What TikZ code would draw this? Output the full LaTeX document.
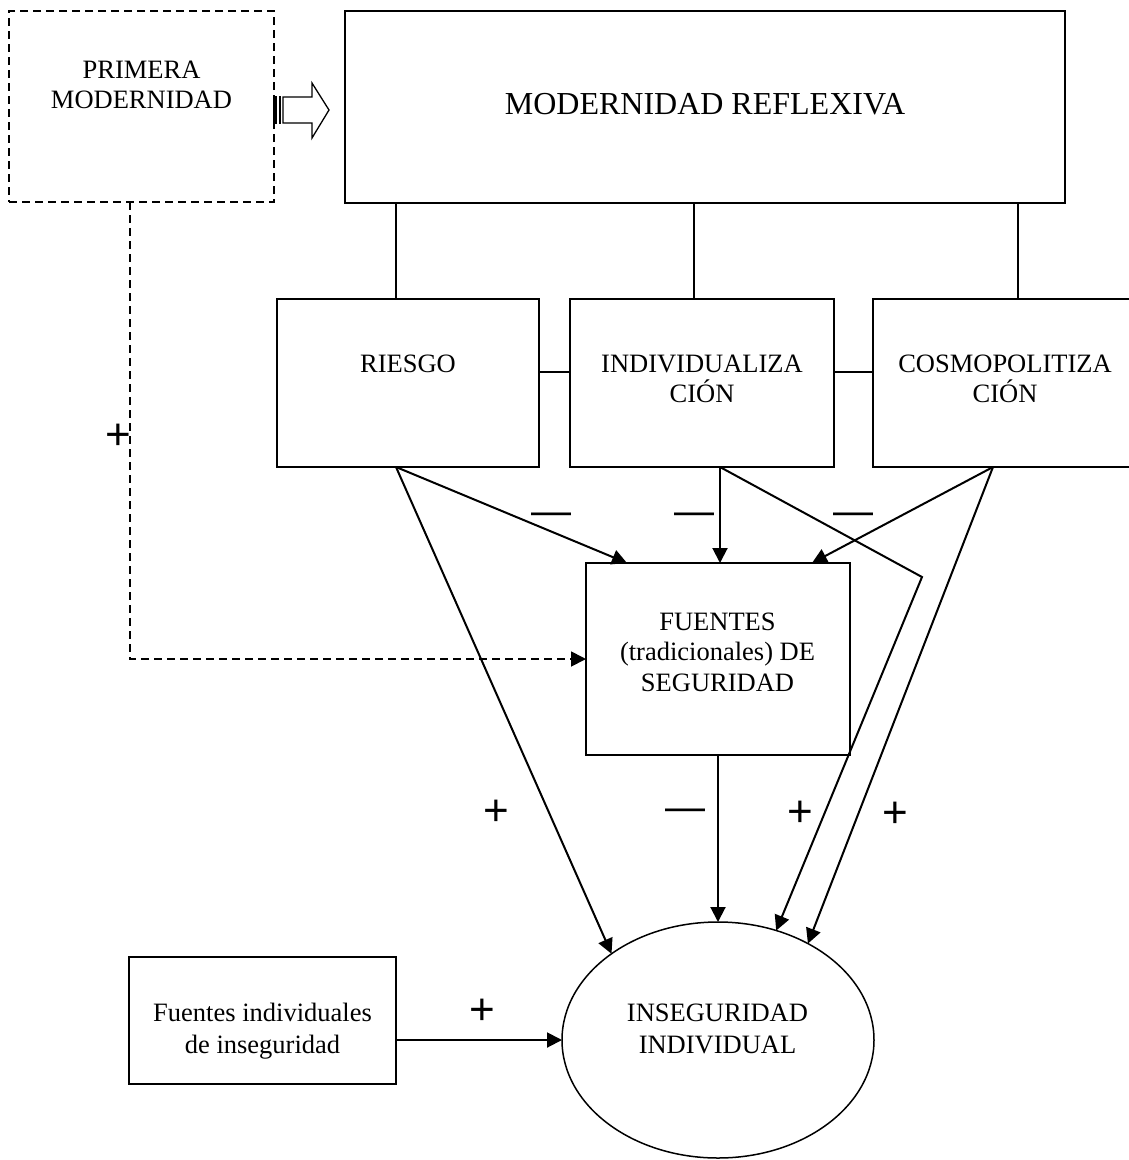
\documentclass[tikz,border=0pt]{standalone}
\usepackage{fontspec}
\setmainfont{Liberation Serif}
\newfontfamily\symfont{Liberation Sans}
\usetikzlibrary{arrows.meta,shapes.geometric}
\begin{document}
\begin{tikzpicture}[x=1pt,y=-1pt,
  boxline/.style={draw,line width=1.5pt,inner sep=0pt,outer sep=0pt,rectangle},
  dashbox/.style={boxline,dash pattern=on 8pt off 5pt},
  txt/.style={font=\fontsize{26.5}{31}\selectfont,anchor=base,inner sep=0pt},
  bigtxt/.style={font=\fontsize{32}{38}\selectfont,anchor=base,inner sep=0pt},
  link/.style={line width=1.5pt},
  arr/.style={line width=2pt,-{Triangle[length=15pt,width=15pt]}},
  dasharr/.style={line width=1.8pt,dash pattern=on 8pt off 5pt,-{Triangle[length=15pt,width=15pt]}},
  sign/.style={font=\symfont\fontsize{44}{44}\selectfont,anchor=base,inner sep=0pt},
  bar/.style={font=\symfont\fontsize{40}{40}\selectfont,anchor=base,inner sep=0pt}]
\useasboundingbox (0,0) rectangle (1129,1160);
\fill[white] (0,0) rectangle (1129,1160);
\clip (0,0) rectangle (1129,1160);

% boxes
\node[dashbox,minimum width=265pt,minimum height=191pt] (prim) at (141.5,106.5) {};
\node[boxline,minimum width=720pt,minimum height=192pt] (mr) at (705,107) {};
\node[boxline,minimum width=262pt,minimum height=168pt] (riesgo) at (408,383) {};
\node[boxline,minimum width=264pt,minimum height=168pt] (indiv) at (702,383) {};
\node[boxline,minimum width=264pt,minimum height=168pt] (cosmo) at (1005,383) {};
\node[boxline,minimum width=264pt,minimum height=192pt] (fuentes) at (718,659) {};
\node[draw,line width=1.5pt,ellipse,inner sep=0pt,outer sep=0pt,minimum width=312pt,minimum height=236pt] (ell) at (718,1040) {};
\node[boxline,minimum width=267pt,minimum height=127pt] (findiv) at (262.5,1020.5) {};

% texts
\node[txt] (tP1) at (141.5,78) {PRIMERA};
\node[txt] (tP2) at (141.5,108) {MODERNIDAD};
\node[bigtxt] (tMR) at (705,114) {MODERNIDAD REFLEXIVA};
\node[txt] (tR) at (408,372) {RIESGO};
\node[txt] (tI1) at (702,372) {INDIVIDUALIZA};
\node[txt] (tI2) at (702,402) {CIÓN};
\node[txt] (tC1) at (1005,372) {COSMOPOLITIZA};
\node[txt] (tC2) at (1005,402) {CIÓN};
\node[txt] (tF1) at (717.5,630) {FUENTES};
\node[txt] (tF2) at (717.5,660) {(tradicionales) DE};
\node[txt] (tF3) at (717.5,691) {SEGURIDAD};
\node[txt] (tE1) at (717.5,1021) {INSEGURIDAD};
\node[txt] (tE2) at (717.5,1053) {INDIVIDUAL};
\node[txt] (tD1) at (262.5,1021) {Fuentes individuales};
\node[txt] (tD2) at (262.5,1053) {de inseguridad};

% block arrow
\fill (273,96) rectangle (277,124);
\draw[line width=1.2pt] (280,96) -- (280,124);
\draw[line width=1.3pt,fill=white] (283,97) -- (312,97) -- (312,83) -- (329,110) -- (312,138) -- (312,123) -- (283,123) -- cycle;

% plain links
\draw[link] (396,0 |- mr.south) -- (396,0 |- riesgo.north);
\draw[link] (694,0 |- mr.south) -- (694,0 |- indiv.north);
\draw[link] (1018,0 |- mr.south) -- (1018,0 |- cosmo.north);
\draw[link] ([yshift=11pt]riesgo.east) -- ([yshift=11pt]indiv.west);
\draw[link] ([yshift=11pt]indiv.east) -- ([yshift=11pt]cosmo.west);

% arrows
\coordinate (rS) at (396,0 |- riesgo.south);
\coordinate (iS) at (720,0 |- indiv.south);
\coordinate (cS) at (993,0 |- cosmo.south);
\coordinate (bend) at (922,577);
\draw[arr] (rS) -- (627,0 |- fuentes.north);
\draw[arr] (rS) -- (ell.141.8);
\draw[arr] (iS) -- (iS |- fuentes.north);
\draw[arr] (iS) -- (bend) -- (ell.62.8);
\draw[arr] (cS) -- (812,0 |- fuentes.north);
\draw[arr] (cS) -- (ell.47.8);
\draw[arr] (fuentes.south) -- (ell.north);
\draw[arr] (findiv.east |- ell.west) -- (ell.west);
\draw[dasharr] ([xshift=-11.5pt]prim.south) |- (fuentes.west);

% signs
\node[sign] (p1) at (118,449.5) {+};
\node[bar] (m1) at (551,524) {—};
\node[bar] (m2) at (694,524) {—};
\node[bar] (m3) at (853,524) {—};
\node[sign] (p2) at (496,825.5) {+};
\node[bar] (m4) at (685,820) {—};
\node[sign] (p3) at (800,826.5) {+};
\node[sign] (p4) at (895,827.5) {+};
\node[sign] (p5) at (482,1024.5) {+};
\end{tikzpicture}
\end{document}
